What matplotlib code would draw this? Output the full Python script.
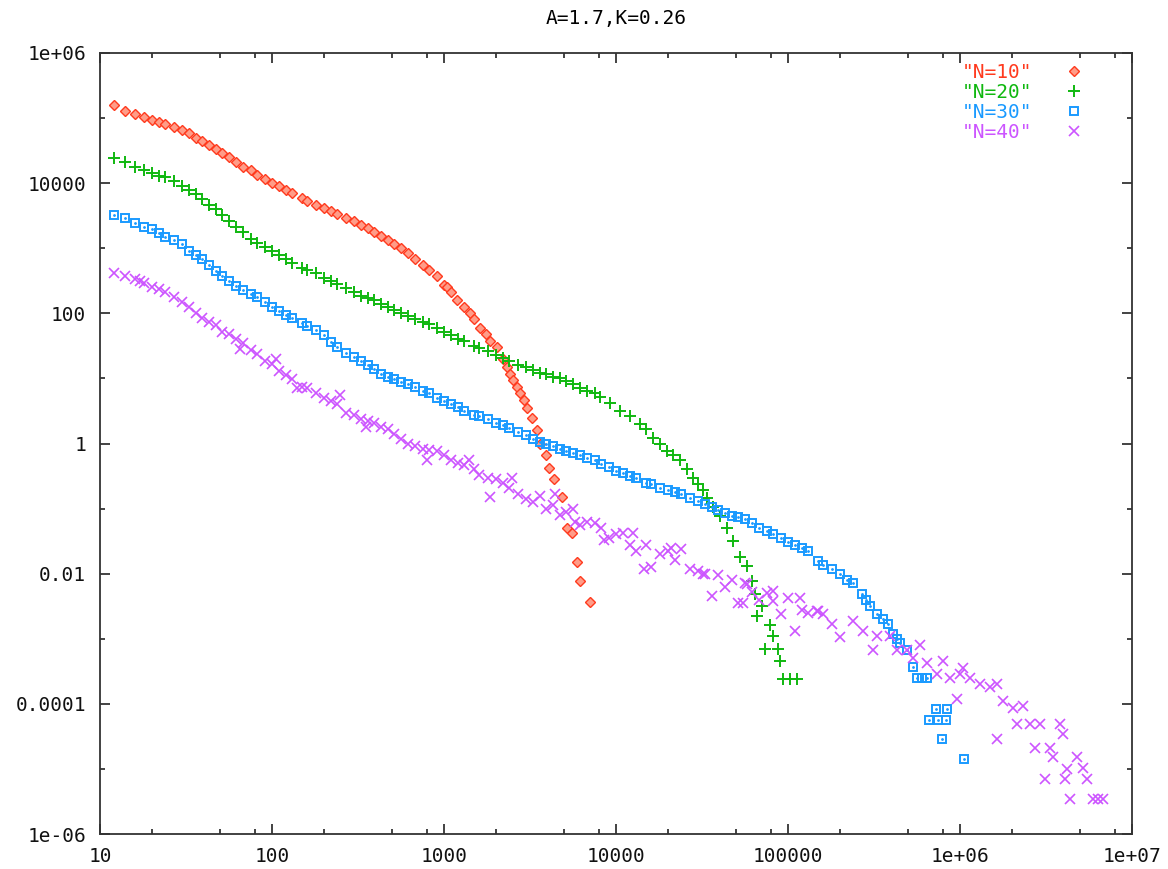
import matplotlib
matplotlib.use('Agg')

import matplotlib.pyplot as plt
from matplotlib.ticker import FixedLocator, FixedFormatter, NullFormatter

# N=10
n10_x = [12, 14, 16, 18, 20, 22, 24, 27, 30, 33, 36, 39, 43, 47, 51, 56, 62, 68, 75, 82,
         91, 100, 110, 120, 130, 150, 160, 180, 200, 220, 240, 270, 300, 330, 360, 390, 430, 470, 510, 560,
         620, 680, 750, 820, 910,
         1000, 1040, 1100, 1190, 1300, 1417, 1500, 1620, 1750, 1850, 2030, 2200, 2320, 2420, 2520, 2650,
         2770, 2900, 3040, 3250, 3480, 3620, 3920, 4080, 4360, 4850, 5190, 5550, 5930, 6180, 7060]
n10_y = [1.6e5, 1.3e5, 1.15e5, 1.05e5, 9.5e4, 8.7e4, 8.1e4, 7.4e4, 6.5e4, 5.9e4,
         5.0e4, 4.5e4, 3.9e4, 3.3e4, 2.95e4, 2.5e4, 2.1e4, 1.8e4, 1.6e4, 1.35e4,
         1.17e4, 1.0e4, 8900, 7900, 7100, 5900, 5400, 4700, 4200, 3800,
         3400, 2950, 2600, 2300, 2050, 1800, 1550, 1350, 1170, 1000,
         850, 690, 560, 470, 370,
         275, 250, 210, 160, 126, 100, 81, 60, 48, 38, 30, 20, 15, 11.7, 9.3, 7.4,
         5.9, 4.6, 3.5, 2.5, 1.6, 1.0, 0.66, 0.42, 0.28, 0.15, 0.051, 0.042, 0.015, 0.0076, 0.0037]

# N=20
n20_x = [12, 14, 16, 18, 20, 22, 24, 27, 30, 33, 36, 39, 43, 47, 51, 56, 62, 68, 75, 82,
         91, 100, 110, 120, 130, 150, 160, 180, 200, 220, 240, 270, 300, 330, 360, 390, 430, 470, 510, 560,
         620, 680, 750, 820, 910, 1000, 1100, 1200, 1300, 1500, 1600, 1800, 2000, 2200, 2400, 2700, 3000,
         3300, 3600, 3900, 4300, 4700, 5100, 5600, 6200, 6800, 7500,
         8070, 9200, 10540, 12000, 13800, 14900, 16400, 18000, 19800, 21500, 23600, 26000, 28000, 30000,
         32100, 34000, 36600, 40000, 44200, 47900, 52600, 57800, 61800, 64300, 66100, 70600, 73400, 78500,
         81800, 87500, 89800, 93500, 102800, 112700]
n20_y = [2.4e4, 2.1e4, 1.8e4, 1.6e4, 1.45e4, 1.3e4, 1.23e4, 1.07e4, 9100, 7800,
         6800, 5800, 4700, 4000, 3300, 2600, 2100, 1800, 1400, 1200,
         1050, 910, 790, 690, 600, 500, 460, 410, 355, 315,
         280, 245, 215, 185, 170, 158, 138, 123, 112, 102,
         91, 81, 74, 68, 59, 52, 46, 41, 37, 32,
         29.5, 26, 23, 20.4, 18.6, 16.2, 14.8, 13.5, 12.3, 11.5,
         10.7, 10, 9.1, 8.1, 7.2, 6.5, 6.0,
         5.1, 4.2, 3.2, 2.6, 2.0, 1.66, 1.23, 0.98, 0.78, 0.66,
         0.55, 0.4, 0.3, 0.24, 0.19, 0.145, 0.105, 0.076, 0.051, 0.032,
         0.018, 0.013, 0.0078, 0.0049, 0.0022, 0.0032, 0.0007, 0.0016, 0.0011, 0.0007,
         0.00046, 0.00024, 0.00024, 0.00024]

# N=30
n30_x = [12, 14, 16, 18, 20, 22, 24, 27, 30, 33, 36, 39, 43, 47, 51, 56, 62, 68, 75, 82,
         91, 100, 110, 120, 130, 150, 160, 180, 200, 220, 240, 270, 300, 330, 360, 390, 430, 470, 510, 560,
         620, 680, 750, 820, 910, 1000, 1100, 1200, 1300, 1500, 1600, 1800, 2000, 2200, 2400, 2700, 3000,
         3300, 3600, 3900, 4300, 4700, 5100, 5600, 6200, 6800, 7500,
         8200, 9100, 10000, 11000, 12000, 13000, 15000, 16000, 18000, 20000,
         22000, 24000, 27000, 30000, 33000, 36000, 39000, 43000, 47000, 51000,
         56000, 62000, 68000, 75000, 82000, 91000, 100000, 110000, 120000, 130000,
         150000, 160000, 180000, 200000, 220000, 240000, 270000, 285000, 300000, 330000,
         355000, 380000, 410000, 430000, 450000, 490000, 530000, 560000, 600000, 640000,
         660000, 730000, 745000, 785000, 830000, 840000, 1050000]
n30_y = [3300, 2950, 2450, 2150, 1950, 1700, 1500, 1350, 1150, 910,
         790, 690, 560, 450, 370, 310, 260, 225, 200, 178,
         148, 126, 110, 95, 85, 71, 65, 55, 46, 36,
         30, 25, 21, 18.6, 15.8, 13.8, 11.7, 10.7, 9.8, 8.9,
         8.1, 7.4, 6.5, 5.9, 5.0, 4.5, 4.1, 3.6, 3.2, 2.75,
         2.6, 2.35, 2.1, 1.95, 1.75, 1.5, 1.35, 1.17, 1.05, 0.98,
         0.91, 0.83, 0.78, 0.72, 0.66, 0.6, 0.55, 0.49, 0.44, 0.38,
         0.35, 0.32, 0.29, 0.25, 0.235, 0.21, 0.19, 0.18, 0.166, 0.148,
         0.132, 0.117, 0.107, 0.095, 0.087, 0.078, 0.074, 0.068, 0.059, 0.051,
         0.045, 0.04, 0.035, 0.031, 0.0275, 0.0245, 0.022,
         0.0155, 0.0138, 0.0117, 0.01, 0.0081, 0.0071, 0.0049, 0.004, 0.0032, 0.0024,
         0.002, 0.0017, 0.0012, 0.001, 0.00087, 0.00066, 0.00037, 0.00025, 0.00025, 0.00025,
         5.6e-5, 8.3e-5, 5.6e-5, 2.9e-5, 5.6e-5, 8.3e-5, 1.4e-5]

# N=40
n40_x = [12, 14, 16, 17, 18, 20, 22, 24, 27, 30, 33, 36, 39, 43, 47, 51, 56, 62, 68, 75,
         82, 91, 100, 110, 120, 130, 150, 160, 180, 200, 220, 240, 270, 300, 330, 360, 390, 430, 470, 510,
         560, 620, 680, 750, 820, 910, 1000, 1100, 1200, 1300, 1500, 1600, 1800, 2000, 2200, 2400, 2700,
         3000, 3300, 3600, 3900, 4300, 4700, 5100, 5600, 6200, 6800, 7500, 8200, 9100,
         10000, 11000, 12000, 13000, 15000, 16000, 18000, 20000, 22000, 24000,
         27000, 30000, 33000, 36000, 39000, 43000, 47000, 51000, 56000, 62000,
         68000, 75000, 82000, 91000, 100000, 110000, 120000, 130000, 150000, 160000,
         180000, 200000,
         65, 105, 140, 250, 350, 800, 1400, 1850, 2500, 4400, 5800, 8500, 12500, 14500, 21000,
         32000, 54700, 58000, 81800, 117500, 147000,
         239000, 273000, 312000, 329000, 392000, 430000, 492000, 533000, 585000, 643000,
         735000, 796000, 875000, 960000, 1000000, 1040000, 1140000, 1310000, 1490000, 1640000,
         1640000, 1780000, 2030000, 2140000, 2320000, 2550000, 2730000, 2920000, 3120000, 3330000,
         3480000, 3810000, 3970000, 4070000, 4190000, 4370000, 4790000, 5190000, 5470000, 5930000,
         6340000, 6780000]
n40_y = [420, 380, 340, 315, 290, 255, 235, 215, 178, 150,
         123, 100, 85, 74, 66, 52, 48, 41, 35, 27.5,
         23.5, 18.2, 16.6, 13.2, 11.2, 9.8, 7.4, 7.1, 6.0, 5.0,
         4.5, 4.0, 2.95, 2.7, 2.35, 2.2, 2.1, 1.8, 1.65, 1.4,
         1.17, 1.0, 0.93, 0.83, 0.79, 0.76, 0.66, 0.56, 0.5, 0.46,
         0.4, 0.33, 0.3, 0.28, 0.25, 0.21, 0.166, 0.14, 0.126, 0.158,
         0.1, 0.112, 0.079, 0.089, 0.1, 0.056, 0.063, 0.06, 0.05, 0.035,
         0.04, 0.042, 0.028, 0.022, 0.028, 0.0126, 0.02, 0.022, 0.016, 0.024,
         0.012, 0.011, 0.01, 0.0045, 0.0095, 0.0063, 0.0079, 0.0035, 0.0071, 0.0052,
         0.004, 0.005, 0.0038, 0.0024, 0.0042, 0.0013, 0.0028, 0.0025, 0.0027, 0.0024,
         0.0017, 0.00105,
         28, 20, 7.0, 5.5, 1.8, 0.55, 0.55, 0.15, 0.3, 0.17, 0.063, 0.033, 0.042, 0.012, 0.025,
         0.01, 0.0035, 0.007, 0.0055, 0.0043, 0.0027,
         0.0019, 0.0013, 0.00066, 0.00112, 0.00112, 0.00066, 0.00066, 0.00051, 0.00079, 0.00042,
         0.00029, 0.00046, 0.00025, 0.00012, 0.00029, 0.00035, 0.00025, 0.0002, 0.00018, 0.0002,
         2.9e-5, 1.12e-4, 8.7e-5, 4.9e-5, 9.3e-5, 4.9e-5, 2.1e-5, 4.9e-5, 7.1e-6, 2.1e-5,
         1.5e-5, 4.9e-5, 3.5e-5, 7.1e-6, 1e-5, 3.5e-6, 1.5e-5, 1.05e-5, 7.1e-6, 3.5e-6,
         3.5e-6, 3.5e-6]

x_ticks = [10, 100, 1000, 10000, 100000, 1e6, 1e7]
x_labels = ['10', '100', '1000', '10000', '100000', '1e+06', '1e+07']
y_ticks = [1e-6, 1e-4, 1e-2, 1, 100, 1e4, 1e6]
y_labels = ['1e-06', '0.0001', '0.01', '1', '100', '10000', '1e+06']

c_red = '#ff3a1e'
c_green = '#10b810'
c_blue = '#1a9aff'
c_purple = '#cc55ff'

plt.rcParams['font.family'] = 'DejaVu Sans Mono'
plt.rcParams['font.size'] = 14

fig = plt.figure(figsize=(11.68, 8.69), dpi=100)
ax = fig.add_axes([100 / 1168, 1 - 834 / 869, 1032 / 1168, 781 / 869])

ax.plot(n10_x, n10_y, ls='none', marker='D', ms=5.5, mfc='#ff9c88', mec=c_red, mew=1.0,
        color=c_red, label='"N=10"')
ax.plot(n20_x, n20_y, ls='none', marker='+', ms=8, mew=1.4, color=c_green, label='"N=20"')
ax.plot(n30_x, n30_y, ls='none', marker='s', ms=6.2, mfc='none', mec=c_blue, mew=1.4,
        color=c_blue, label='"N=30"')
ax.plot(n30_x, n30_y, ls='none', marker='.', ms=2, color=c_blue)
ax.plot(n40_x, n40_y, ls='none', marker='x', ms=7.5, mew=1.2, color=c_purple, label='"N=40"')

ax.set_xscale('log')
ax.set_yscale('log')
ax.set_xlim(10, 1e7)
ax.set_ylim(1e-6, 1e6)

ax.xaxis.set_major_locator(FixedLocator(x_ticks))
ax.xaxis.set_major_formatter(FixedFormatter(x_labels))
ax.xaxis.set_minor_locator(FixedLocator([m * 10 ** e for e in range(1, 7) for m in (2, 5, 8)]))
ax.xaxis.set_minor_formatter(NullFormatter())
ax.yaxis.set_major_locator(FixedLocator(y_ticks))
ax.yaxis.set_major_formatter(FixedFormatter(y_labels))
ax.yaxis.set_minor_locator(FixedLocator([1e-5, 1e-3, 0.1, 10, 1000, 1e5]))
ax.yaxis.set_minor_formatter(NullFormatter())

ax.tick_params(which='both', direction='in', top=True, right=True, width=1.2,
               color='#222222', labelcolor='#111111')
ax.tick_params(which='major', length=7.5)
ax.tick_params(which='minor', length=3.6)
ax.tick_params(axis='x', which='major', pad=9.5)
ax.tick_params(axis='y', which='major', pad=10)
for s in ax.spines.values():
    s.set_linewidth(1.3)
    s.set_color('#333333')

ax.set_title('A=1.7,K=0.26', pad=21, fontsize=14)

leg = ax.legend(loc='upper right', bbox_to_anchor=(1094 / 1168, 1 - 53 / 869),
                bbox_transform=fig.transFigure, frameon=False, markerfirst=False,
                labelcolor='linecolor', handlelength=1.1, handletextpad=1.6,
                labelspacing=0.05, borderpad=0, fontsize=14)

fig.savefig('out.png', dpi=100)
